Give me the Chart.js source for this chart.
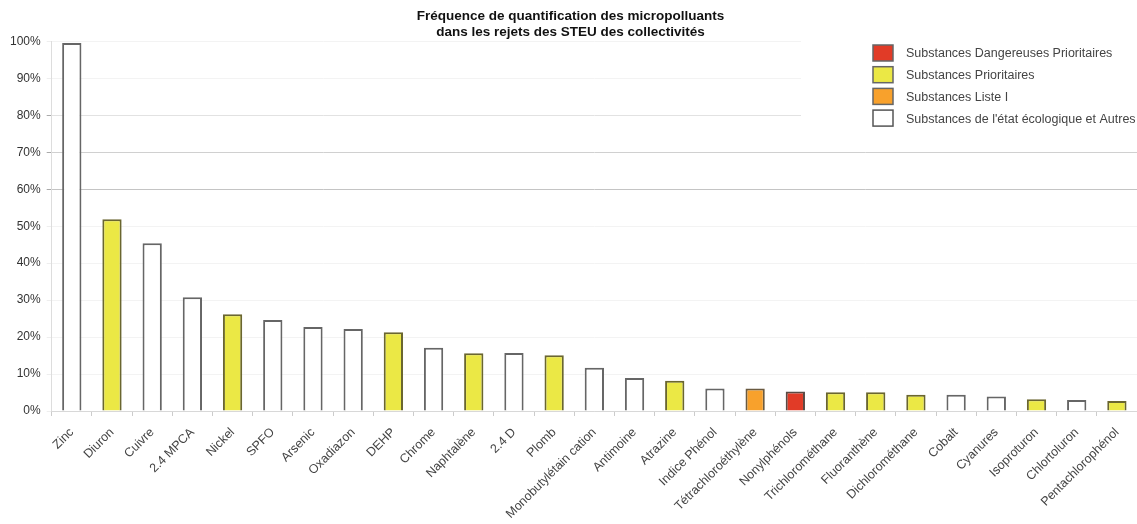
<!DOCTYPE html>
<html lang="fr">
<head>
<meta charset="utf-8">
<title>Fréquence de quantification des micropolluants</title>
<script src="https://cdn.jsdelivr.net/npm/chart.js@4/dist/chart.umd.min.js"></script>
<style>
    html, body { margin: 0; padding: 0; background: #fff; overflow: hidden; }
    #wrap { width: 1137px; height: 524px; }
</style>
</head>
<body>
<div id="wrap"><canvas id="freqChart"></canvas></div>
<script>
// substances, fréquence de quantification (%) et catégorie de chaque substance
const substances = [
    'Zinc', 'Diuron', 'Cuivre', '2.4 MPCA', 'Nickel', 'SPFO', 'Arsenic', 'Oxadiazon', 'DEHP',
    'Chrome', 'Naphtalène', '2.4 D', 'Plomb', 'Monobutylétain cation', 'Antimoine', 'Atrazine',
    'Indice Phénol', 'Tétrachloroéthylène', 'Nonylphénols', 'Trichlorométhane', 'Fluoranthène',
    'Dichlorométhane', 'Cobalt', 'Cyanures', 'Isoproturon', 'Chlortoluron', 'Pentachlorophénol'
];
const frequences = [
    99.6, 51.9, 45.4, 30.8, 26.2, 24.6, 22.7, 22.2, 21.3,
    17.1, 15.6, 15.7, 15.1, 11.7, 8.9, 8.2,
    6.1, 6.1, 5.3, 5.1, 5.1,
    4.4, 4.4, 3.9, 3.2, 3.0, 2.7
];
// 0 = dangereuses prioritaires, 1 = prioritaires, 2 = liste I, 3 = état écologique et autres
const categories = [
    3, 1, 3, 3, 1, 3, 3, 3, 1,
    3, 1, 3, 1, 3, 3, 1,
    3, 2, 0, 1, 1,
    1, 3, 3, 1, 3, 1
];
const legendLabels = [
    'Substances Dangereuses Prioritaires',
    'Substances Prioritaires',
    'Substances Liste I',
    'Substances de l\'état écologique et Autres'
];
const yTicks = [0, 10, 20, 30, 40, 50, 60, 70, 80, 90, 100];

const fillColors = ['#e13b27', '#ebe845', '#f8a12c', '#ffffff'];
const borderColors = ['#5a4a44', '#6a6630', '#6a5a40', '#666666'];
const FONT = '"Liberation Sans", Arial, sans-serif';

// légende dessinée dans le coin supérieur droit, sur fond blanc
const legendeCategories = {
    id: 'legendeCategories',
    beforeDatasetsDraw(chart) {
        const c = chart.ctx;
        c.save();
        c.fillStyle = '#ffffff';
        c.fillRect(801, chart.chartArea.top - 5, chart.width - 801, 98);
        c.restore();
    },
    afterDraw(chart) {
        const c = chart.ctx;
        c.save();
        c.font = '12.5px ' + FONT;
        c.textBaseline = 'middle';
        legendLabels.forEach((label, i) => {
            const y = 45 + i * 21.7;
            c.fillStyle = fillColors[i];
            c.fillRect(873, y, 20, 16);
            c.lineWidth = 1.5;
            c.strokeStyle = i === 3 ? '#555555' : '#666666';
            c.strokeRect(873, y, 20, 16);
            c.fillStyle = '#444444';
            c.fillText(label, 906, y + 9);
        });
        c.restore();
    }
};

function gridColor(value) {
    if (value === 60) return '#c4c4c4';
    if (value === 70) return '#d0d0d0';
    if (value === 80) return '#e2e2e2';
    if (value === 0) return '#d8d8d8';
    return '#f3f3f3';
}

const ctx = document.getElementById('freqChart').getContext('2d');
new Chart(ctx, {
    type: 'bar',
    data: {
        labels: substances,
        datasets: [{
            label: 'Fréquence de quantification',
            data: frequences,
            backgroundColor: categories.map(k => fillColors[k]),
            borderColor: categories.map(k => borderColors[k]),
            borderWidth: 2,
            barPercentage: 0.48,
            categoryPercentage: 1.0
        }]
    },
    options: {
        responsive: true,
        maintainAspectRatio: false,
        animation: false,
        layout: {
            padding: { left: 4, right: 0, top: 0, bottom: 0 }
        },
        scales: {
            y: {
                min: 0,
                max: 100,
                afterBuildTicks(axis) {
                    axis.ticks = yTicks.map(v => ({ value: v }));
                },
                ticks: {
                    callback: v => v + '%',
                    color: '#333333',
                    padding: 6,
                    font: { family: FONT, size: 12 }
                },
                grid: {
                    color: c => gridColor(c.tick.value),
                    lineWidth: 1,
                    tickLength: 5,
                    tickColor: c => (c.tick.value >= 60 && c.tick.value <= 80) ? '#aaaaaa' : '#eeeeee'
                },
                border: { color: '#dddddd' }
            },
            x: {
                afterFit(scale) {
                    // hauteur fixe de l'axe pour les libellés inclinés
                    scale.height = 113;
                },
                ticks: {
                    maxRotation: 45,
                    minRotation: 45,
                    autoSkip: false,
                    color: '#444444',
                    padding: 9,
                    font: { family: FONT, size: 12.5 }
                },
                grid: {
                    drawOnChartArea: false,
                    tickLength: 5,
                    color: '#cccccc'
                },
                border: { color: '#d8d8d8' }
            }
        },
        plugins: {
            title: {
                display: true,
                text: ['Fréquence de quantification des micropolluants', 'dans les rejets des STEU des collectivités'],
                color: '#111111',
                font: { family: FONT, size: 13.5, weight: 'bold', lineHeight: 1.2 },
                padding: { top: 8, bottom: 1 }
            },
            legend: { display: false },
            tooltip: { enabled: false }
        }
    },
    plugins: [legendeCategories]
});
</script>
</body>
</html>
